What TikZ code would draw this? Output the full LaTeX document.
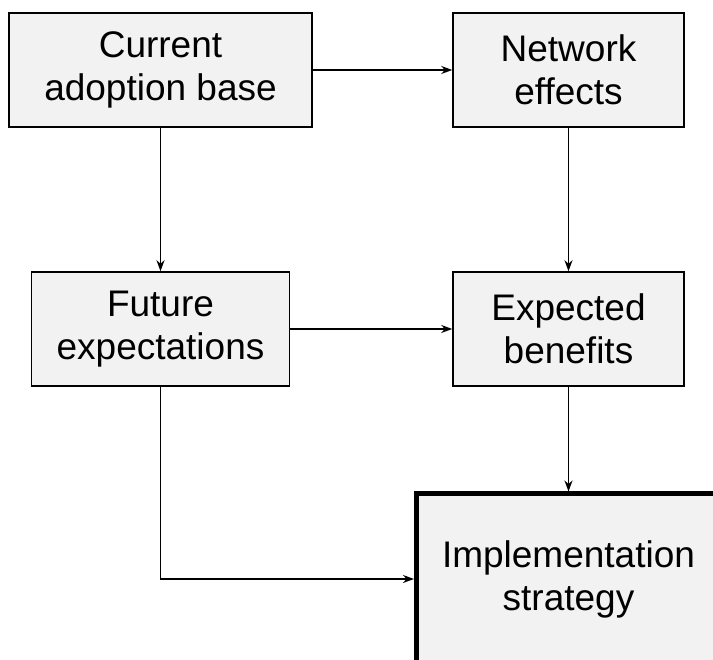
\documentclass[tikz,border=0pt]{standalone}
\usepackage{fontspec}
\setmainfont{Liberation Sans}
\usetikzlibrary{positioning, arrows.meta}
\definecolor{boxgray}{HTML}{F2F2F2}

\begin{document}
\begin{tikzpicture}[x=1pt, y=1pt, node distance=408pt, auto,
  box/.style={draw, fill=boxgray, line width=1.5pt, align=center, inner sep=0pt, minimum height=114pt, font=\fontsize{37}{43}\selectfont},
  link/.style={arrows=-{Stealth[length=11pt, width=8pt, inset=3.5pt]}, line width=1.5pt}]
\useasboundingbox (0,0) rectangle (713,660);
\clip (0,0) rectangle (713,660);
\node  (cur)[box, minimum width=303pt] at (160.5,590) {Current\\adoption base};
\node  (net)[box, minimum width=231pt]   [  right  of = cur] {Network\\effects};
\node  (fut)[box, minimum width=258pt]   [  below  of = cur, node distance=259pt] {Future\\expectations};
\node  (exp)[box, minimum width=231pt]   [  below  of = net, node distance=259pt] {Expected\\benefits};
\node  (imp)[box, minimum width=304pt, minimum height=170pt, line width=5pt]   [  below  of = exp, node distance=250pt] {Implementation\\strategy};
\draw[link] (cur) -- (net);
\draw[link] (cur) -- (fut);
\draw[link] (net) -- (exp);
\draw[link] (fut) -- (exp);
\draw[link] (exp) -- (imp);
\draw[link] (fut.south) |- (imp.west);
\end{tikzpicture}
\end{document}
